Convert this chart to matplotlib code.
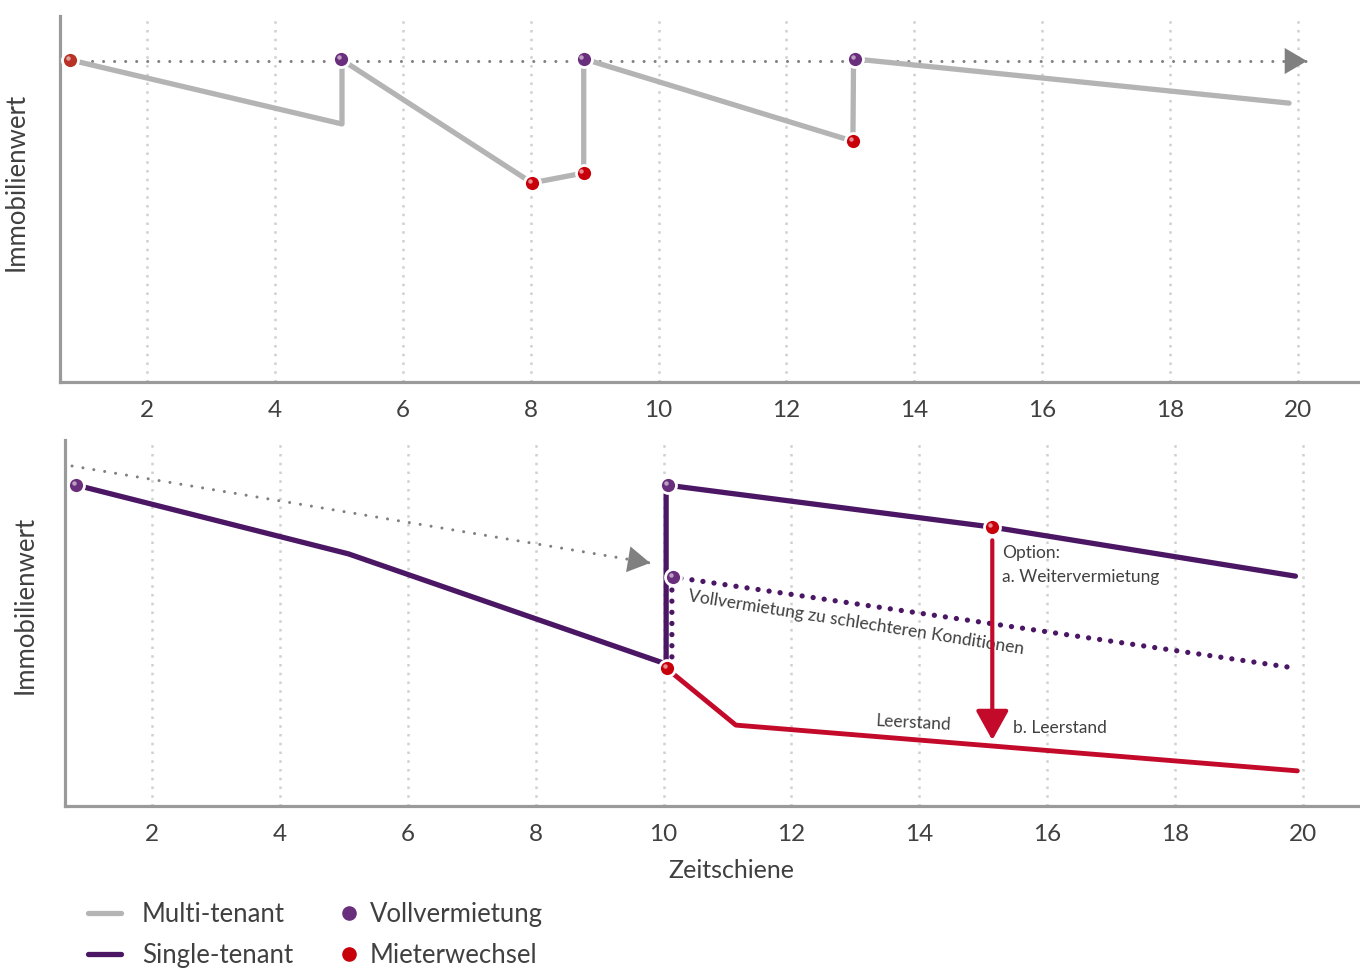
import matplotlib
matplotlib.use('Agg')
import matplotlib.pyplot as plt
from matplotlib.lines import Line2D
from matplotlib.transforms import offset_copy

plt.rcParams['font.family'] = ['Lato', 'DejaVu Sans']

# Farben
GREY = '#b4b4b4'
PURPLE = '#4b1764'
RED = '#c40a2a'
BALL_PURPLE = '#6a2f7c'
BALL_RED = '#c8000a'
BALL_START = '#b83225'
DOT_GREY = '#808080'
TEXT = '#404040'
SPINE = '#9a9a9a'

# x-Achse
xticks = [2, 4, 6, 8, 10, 12, 14, 16, 18, 20]

# oben: Multi-tenant
multi_x = [0.80, 5.05, 5.05, 8.02, 8.83, 8.83, 13.04, 13.05, 19.86]
multi_y = [88.0, 70.5, 88.0, 54.4, 57.1, 88.3, 65.8, 88.3, 76.2]
multi_ref_x = [0.80, 20.14]
multi_ref_y = [87.7, 87.7]
multi_voll_x = [5.04, 8.83, 13.07]
multi_voll_y = [88.3, 88.3, 88.3]
multi_wechsel_x = [0.80, 8.02, 8.83, 13.04]
multi_wechsel_y = [88.0, 54.4, 57.1, 65.8]
multi_wechsel_c = [BALL_START, BALL_RED, BALL_RED, BALL_RED]

# unten: Single-tenant
single_x = [0.81, 5.07, 10.04, 10.04, 15.14, 19.88]
single_y = [87.7, 68.9, 38.8, 87.7, 76.2, 62.8]
leer_x = [10.04, 11.13, 19.91]
leer_y = [37.7, 22.1, 9.6]
schlecht_x = [10.13, 10.13, 19.75]
schlecht_y = [37.7, 62.6, 38.0]
single_ref_x = [0.75, 9.79]
single_ref_y = [92.9, 66.4]
single_voll_x = [0.81, 10.07, 10.15]
single_voll_y = [87.7, 87.7, 62.6]
single_wechsel_x = [10.06, 15.14]
single_wechsel_y = [37.7, 76.2]
option_x = [15.14, 15.14]
option_y = [72.6, 18.0]


def balls(ax, xs, ys, colors):
    if isinstance(colors, str):
        colors = [colors] * len(xs)
    hl = offset_copy(ax.transData, fig=ax.figure, x=-1.6, y=1.6, units='points')
    for x, y, c in zip(xs, ys, colors):
        ax.plot(x, y, 'o', ms=11.5, color=c, mec='white', mew=2, zorder=6)
        ax.plot(x, y, 'o', ms=3.2, color='white', alpha=0.55, mew=0,
                transform=hl, zorder=7)


def head(ax, x0, y0, x1, y1, color, hl=0.8, hw=0.47):
    # nur die Pfeilspitze, Linie wird extra gezeichnet
    xs = x1 - 0.02 * (x1 - x0)
    ys = y1 - 0.02 * (y1 - y0)
    ax.annotate('', xy=(x1, y1), xytext=(xs, ys),
                arrowprops=dict(arrowstyle=f'-|>,head_length={hl},head_width={hw}',
                                mutation_scale=20, color=color, lw=0,
                                shrinkA=0, shrinkB=0), zorder=4)


def style(ax, xlim):
    ax.set_xlim(*xlim)
    ax.set_ylim(0, 100)
    ax.set_xticks(xticks)
    ax.set_yticks([])
    ax.tick_params(axis='x', length=0, pad=13, labelsize=17.5, labelcolor=TEXT)
    ax.grid(axis='x', color='#d0d0d0', linestyle=(0, (1, 2.5)), linewidth=1.8)
    ax.set_axisbelow(True)
    for s in ['top', 'right']:
        ax.spines[s].set_visible(False)
    for s in ['left', 'bottom']:
        ax.spines[s].set_color(SPINE)
        ax.spines[s].set_linewidth(2.3)
    ax.set_ylabel('Immobilienwert', fontsize=18.5, color=TEXT)


fig = plt.figure(figsize=(13.6, 9.68), dpi=100)
ax1 = fig.add_axes([60 / 1360, 1 - 382 / 968, 1 - 60 / 1360, 366 / 968])
ax2 = fig.add_axes([65 / 1360, 1 - 806 / 968, 1 - 65 / 1360, 366 / 968])

dots = (0, (0.01, 3.6))

# --- oben ---
style(ax1, (0.64, 20.97))
ax1.yaxis.set_label_coords(-0.024, 0.546)
ax1.plot(multi_ref_x, multi_ref_y, color=DOT_GREY, lw=2.2, linestyle=dots,
         dash_capstyle='round', zorder=3)
head(ax1, multi_ref_x[0], multi_ref_y[0], multi_ref_x[1], multi_ref_y[1], DOT_GREY)
ax1.plot(multi_x, multi_y, color=GREY, lw=3.8, solid_capstyle='round', zorder=4)
balls(ax1, multi_voll_x, multi_voll_y, BALL_PURPLE)
balls(ax1, multi_wechsel_x, multi_wechsel_y, multi_wechsel_c)

# --- unten ---
style(ax2, (0.64, 20.89))
ax2.yaxis.set_label_coords(-0.021, 0.549)
ax2.plot(single_ref_x, single_ref_y, color=DOT_GREY, lw=2.2, linestyle=dots,
         dash_capstyle='round', zorder=3)
head(ax2, single_ref_x[0], single_ref_y[0], single_ref_x[1], single_ref_y[1], DOT_GREY)
ax2.plot(single_x, single_y, color=PURPLE, lw=3.8, solid_capstyle='round', zorder=4)
ax2.plot(leer_x, leer_y, color=RED, lw=3.5, solid_capstyle='round', zorder=4)
ax2.plot(schlecht_x, schlecht_y, color=PURPLE, lw=3.8, linestyle=(0, (0.01, 2.1)),
         dash_capstyle='round', zorder=4)
ax2.annotate('', xy=(option_x[1], option_y[1]), xytext=(option_x[0], option_y[0]),
             arrowprops=dict(arrowstyle='-|>,head_length=0.9,head_width=0.5',
                             mutation_scale=20, color=RED, lw=3,
                             shrinkA=0, shrinkB=0), zorder=5)
balls(ax2, single_voll_x, single_voll_y, BALL_PURPLE)
balls(ax2, single_wechsel_x, single_wechsel_y, BALL_RED)

ax2.text(15.29, 69.1, 'Option:', fontsize=12.5, color=TEXT, va='center', ha='left')
ax2.text(15.29, 62.6, 'a. Weitervermietung', fontsize=12.5, color=TEXT, va='center', ha='left')
ax2.text(10.41, 59.5, 'Vollvermietung zu schlechteren Konditionen', fontsize=12.5,
         color=TEXT, ha='left', va='top', rotation=-9, rotation_mode='anchor')
ax2.text(13.9, 22.7, 'Leerstand', fontsize=12.5, color=TEXT, ha='center', va='center',
         rotation=-3)
ax2.text(15.47, 21.3, 'b. Leerstand', fontsize=12.5, color=TEXT, ha='left', va='center')

fig.text(731 / 1360, 1 - 870 / 968, 'Zeitschiene', fontsize=18, color=TEXT,
         ha='center', va='center')

# --- Legende ---
line_handles = [Line2D([], [], color=GREY, lw=3.8, solid_capstyle='round'),
                Line2D([], [], color=PURPLE, lw=3.8, solid_capstyle='round')]
ball_handles = [Line2D([], [], ls='none', marker='o', ms=9.5, color=BALL_PURPLE),
                Line2D([], [], ls='none', marker='o', ms=9.5, color=BALL_RED)]
leg_kw = dict(loc='center left', frameon=False, fontsize=18.5, labelspacing=0.6,
              borderpad=0, borderaxespad=0, labelcolor=TEXT)
fig.legend(line_handles, ['Multi-tenant', 'Single-tenant'],
           bbox_to_anchor=(88 / 1360, 1 - 935 / 968),
           handlelength=1.3, handletextpad=0.8, **leg_kw)
fig.legend(ball_handles, ['Vollvermietung', 'Mieterwechsel'],
           bbox_to_anchor=(343 / 1360, 1 - 935 / 968),
           handlelength=0.5, handletextpad=0.55, **leg_kw)

fig.savefig('out.png', dpi=100)
